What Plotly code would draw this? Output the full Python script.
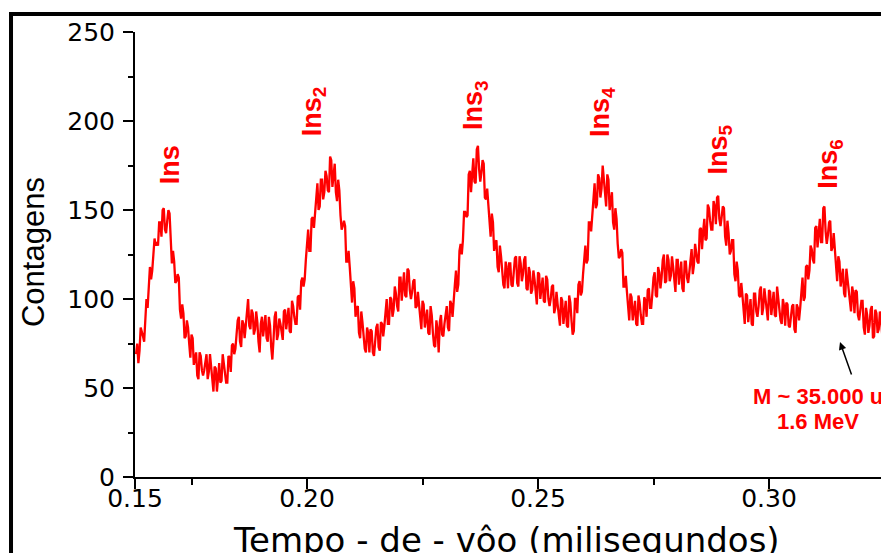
import numpy as np
import plotly.graph_objects as go

# ---- data ----
T0 = 0.163         # ms, first sample
STEP = 0.00025     # ms, sampling interval
counts = [
    69, 75, 64, 71, 84, 82, 79, 76, 93, 100, 95, 108, 118, 111, 116, 125,
    134, 130, 132, 130, 143, 143, 135, 150, 151, 139, 137, 144, 150, 148, 130, 120,
    127, 121, 109, 110, 114, 112, 94, 89, 97, 92, 78, 79, 88, 84, 75, 67,
    80, 78, 63, 68, 70, 57, 55, 70, 68, 60, 57, 60, 66, 69, 55, 59,
    69, 62, 53, 48, 62, 61, 48, 58, 64, 53, 54, 69, 63, 57, 53, 53,
    68, 67, 59, 74, 75, 69, 72, 80, 88, 90, 76, 73, 88, 86, 78, 85,
    96, 100, 85, 83, 94, 92, 80, 83, 93, 87, 76, 70, 86, 90, 79, 86,
    91, 78, 76, 90, 85, 73, 66, 77, 90, 93, 77, 80, 89, 86, 80, 77,
    93, 94, 83, 91, 95, 82, 81, 99, 96, 90, 86, 86, 101, 102, 94, 110,
    112, 107, 111, 122, 134, 139, 127, 127, 145, 146, 140, 148, 160, 165, 150, 152,
    167, 167, 156, 160, 172, 169, 161, 160, 180, 178, 163, 171, 176, 160, 155, 167,
    161, 147, 139, 141, 144, 141, 121, 121, 127, 118, 106, 98, 110, 106, 90, 95,
    96, 81, 78, 93, 87, 78, 72, 70, 84, 81, 70, 83, 82, 70, 68, 76,
    84, 86, 73, 71, 87, 86, 79, 85, 95, 100, 86, 86, 101, 100, 90, 94,
    107, 103, 96, 93, 112, 112, 99, 108, 115, 102, 101, 117, 116, 105, 100, 104,
    110, 111, 95, 96, 104, 97, 88, 83, 99, 97, 84, 91, 94, 81, 80, 96,
    91, 81, 74, 73, 88, 83, 70, 87, 91, 80, 79, 86, 93, 96, 84, 82,
    99, 97, 90, 97, 108, 116, 104, 108, 127, 131, 125, 133, 149, 149, 146, 147,
    170, 172, 160, 170, 179, 166, 165, 184, 186, 173, 166, 171, 178, 176, 157, 156,
    162, 153, 142, 135, 148, 143, 127, 132, 133, 118, 115, 130, 124, 115, 108, 106,
    121, 117, 106, 120, 120, 108, 107, 115, 123, 124, 109, 107, 124, 120, 110, 114,
    122, 124, 106, 105, 118, 115, 103, 105, 116, 111, 102, 97, 115, 114, 100, 107,
    112, 99, 98, 113, 111, 100, 96, 100, 107, 108, 92, 95, 104, 97, 89, 85,
    101, 99, 86, 94, 99, 85, 84, 102, 98, 88, 80, 82, 100, 100, 92, 108,
    110, 102, 104, 114, 125, 130, 120, 122, 143, 143, 138, 147, 160, 165, 151, 153,
    170, 168, 157, 162, 175, 168, 157, 152, 170, 167, 150, 156, 160, 143, 139, 151,
    145, 131, 123, 124, 128, 126, 107, 107, 113, 104, 94, 88, 103, 101, 88, 95,
    99, 86, 85, 102, 98, 91, 86, 86, 101, 99, 90, 105, 106, 95, 95, 103,
    112, 115, 102, 101, 118, 115, 106, 112, 122, 125, 109, 110, 125, 122, 110, 113,
    124, 118, 109, 104, 122, 122, 108, 116, 121, 106, 104, 121, 121, 112, 109, 115,
    124, 128, 114, 119, 131, 127, 121, 120, 139, 140, 128, 138, 145, 133, 134, 153,
    151, 144, 139, 139, 155, 152, 142, 157, 158, 145, 141, 146, 152, 151, 135, 130,
    144, 137, 125, 127, 133, 133, 114, 110, 121, 116, 102, 101, 109, 102, 92, 86,
    103, 102, 87, 94, 100, 86, 85, 103, 103, 93, 90, 96, 105, 107, 91, 95,
    106, 100, 92, 88, 105, 104, 91, 99, 104, 91, 90, 107, 102, 94, 88, 86,
    100, 96, 85, 98, 97, 85, 84, 90, 96, 97, 83, 81, 97, 95, 88, 95,
    106, 112, 99, 101, 118, 119, 111, 116, 130, 128, 122, 120, 140, 141, 129, 138,
    145, 132, 132, 151, 152, 138, 131, 136, 143, 144, 127, 129, 137, 128, 117, 110,
    124, 121, 107, 114, 117, 103, 101, 117, 111, 102, 96, 93, 107, 103, 92, 105,
    104, 91, 88, 93, 99, 99, 84, 80, 95, 91, 81, 85, 94, 96, 78, 79,
    94, 92, 81, 83, 93, 88, 80, 78, 92,
]
time_ms = np.round(T0 + STEP * np.arange(len(counts)), 6)

x_range = [0.16277, 0.32424]
x_tick_vals = [0.16277, 0.20, 0.25, 0.30]
x_tick_text = ["0.15", "0.20", "0.25", "0.30"]
x_minor_vals = [0.175, 0.225, 0.275]
y_range = [0, 250]
y_tick_vals = [0, 50, 100, 150, 200, 250]
y_minor_vals = [25, 75, 125, 175, 225]

peak_labels = ["Ins", "Ins<sub>2</sub>", "Ins<sub>3</sub>", "Ins<sub>4</sub>",
               "Ins<sub>5</sub>", "Ins<sub>6</sub>"]
label_time = [0.17035, 0.20152, 0.23636, 0.26385, 0.28939, 0.31320]
label_count = [175.1, 205.5, 209.0, 205.0, 184.0, 176.0]

note_lines = ["M ~ 35.000 u", "1.6 MeV"]

RED = "#FF0000"
TICKFONT = dict(family="DejaVu Sans", size=25, color="black")

fig = go.Figure()
fig.add_trace(go.Scatter(x=time_ms, y=counts, mode="lines",
                         line=dict(color=RED, width=2.3),
                         showlegend=False, hoverinfo="skip"))

axis_common = dict(showline=True, linecolor="black", linewidth=2,
                   ticks="outside", ticklen=10, tickwidth=2, tickcolor="black",
                   showgrid=False, zeroline=False, tickfont=TICKFONT)

fig.update_layout(
    width=881, height=553,
    margin=dict(l=135, r=0, t=32, b=76, pad=0),
    paper_bgcolor="white", plot_bgcolor="white",
    xaxis=dict(range=x_range, tickmode="array", tickvals=x_tick_vals,
               ticktext=x_tick_text, ticklabelstandoff=-12,
               minor=dict(tickvals=x_minor_vals, ticks="outside", ticklen=6,
                          tickwidth=2, tickcolor="black", showgrid=False),
               **axis_common),
    yaxis=dict(range=y_range, tickmode="array", tickvals=y_tick_vals,
               ticklabelstandoff=3,
               minor=dict(tickvals=y_minor_vals, ticks="outside", ticklen=5,
                          tickwidth=2, tickcolor="black", showgrid=False),
               **axis_common),
)

ann = []
# axis titles
ann.append(dict(text="Tempo - de - vôo (milisegundos)", xref="paper", yref="paper",
                x=0.498, y=-0.1416, xanchor="center", yanchor="middle",
                showarrow=False, font=dict(family="DejaVu Sans", size=34, color="black")))
ann.append(dict(text="Contagens", xref="paper", yref="paper", textangle=-90,
                x=-0.1367, y=0.5056, xanchor="center", yanchor="middle",
                showarrow=False,
                font=dict(family="Liberation Sans, Arial", size=31, color="black")))
# peak labels
for t, xv, yv in zip(peak_labels, label_time, label_count):
    ann.append(dict(text="<b>" + t + "</b>", x=xv, y=yv, xref="x", yref="y",
                    textangle=-90, xanchor="center", yanchor="middle", showarrow=False,
                    font=dict(family="Liberation Sans, Arial", size=27, color=RED)))
# note
ann.append(dict(text="<b>" + note_lines[0] + "</b>", x=0.31061, y=45.4, xref="x", yref="y",
                xanchor="center", yanchor="middle", showarrow=False,
                font=dict(family="Liberation Sans, Arial", size=22, color=RED)))
ann.append(dict(text="<b>" + note_lines[1] + "</b>", x=0.31061, y=31.0, xref="x", yref="y",
                xanchor="center", yanchor="middle", showarrow=False,
                font=dict(family="Liberation Sans, Arial", size=22, color=RED)))
# arrow
ann.append(dict(text="", x=0.31537, y=75.8, xref="x", yref="y",
                ax=12, ay=34, axref="pixel", ayref="pixel", showarrow=True,
                arrowhead=2, arrowsize=1, arrowwidth=1.5, arrowcolor="black", standoff=0))
fig.update_layout(annotations=ann)

# outer black frame (left and top edges)
fig.add_shape(type="line", xref="paper", yref="paper", x0=-0.1662, x1=-0.1662,
              y0=1.0404, y1=-0.3, line=dict(color="black", width=4))
fig.add_shape(type="line", xref="paper", yref="paper", x0=-0.1689, x1=1.05,
              y0=1.0404, y1=1.0404, line=dict(color="black", width=4))

fig.write_html("out.html",
               config={"displayModeBar": False},
               post_script="document.body.style.margin='0';"
                           "document.body.style.overflow='hidden';")
